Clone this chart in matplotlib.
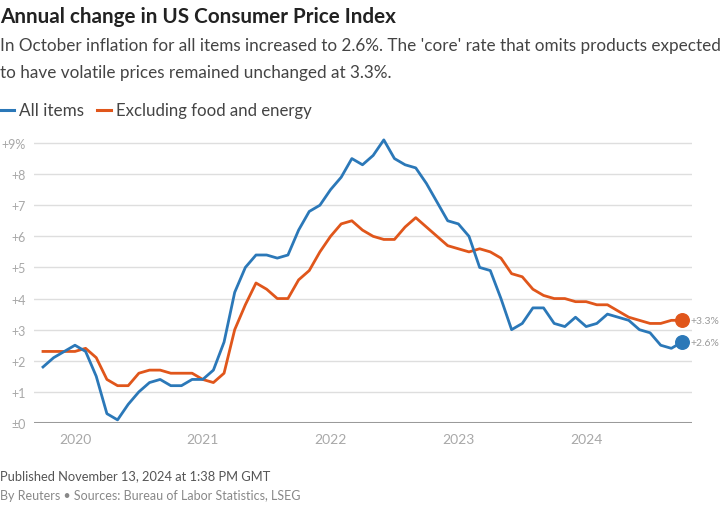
import matplotlib
matplotlib.use("Agg")
import matplotlib.pyplot as plt
import numpy as np

plt.rcParams['font.family'] = ['Lato', 'DejaVu Sans']

# monthly data, Oct 2019 .. Oct 2024
start_year = 2019
start_month = 10
all_items = [1.8, 2.1, 2.3,
             2.5, 2.3, 1.5, 0.3, 0.1, 0.6, 1.0, 1.3, 1.4, 1.2, 1.2, 1.4,
             1.4, 1.7, 2.6, 4.2, 5.0, 5.4, 5.4, 5.3, 5.4, 6.2, 6.8, 7.0,
             7.5, 7.9, 8.5, 8.3, 8.6, 9.1, 8.5, 8.3, 8.2, 7.7, 7.1, 6.5,
             6.4, 6.0, 5.0, 4.9, 4.0, 3.0, 3.2, 3.7, 3.7, 3.2, 3.1, 3.4,
             3.1, 3.2, 3.5, 3.4, 3.3, 3.0, 2.9, 2.5, 2.4, 2.6]
core = [2.3, 2.3, 2.3,
        2.3, 2.4, 2.1, 1.4, 1.2, 1.2, 1.6, 1.7, 1.7, 1.6, 1.6, 1.6,
        1.4, 1.3, 1.6, 3.0, 3.8, 4.5, 4.3, 4.0, 4.0, 4.6, 4.9, 5.5,
        6.0, 6.4, 6.5, 6.2, 6.0, 5.9, 5.9, 6.3, 6.6, 6.3, 6.0, 5.7,
        5.6, 5.5, 5.6, 5.5, 5.3, 4.8, 4.7, 4.3, 4.1, 4.0, 4.0, 3.9,
        3.9, 3.8, 3.8, 3.6, 3.4, 3.3, 3.2, 3.2, 3.3, 3.3]
year_labels = ["2020", "2021", "2022", "2023", "2024"]
y_ticks = [0, 1, 2, 3, 4, 5, 6, 7, 8, 9]
y_labels = ["\u00b10", "+1", "+2", "+3", "+4", "+5", "+6", "+7", "+8", "+9%"]

blue = "#2b78b8"
orange = "#e0561b"
grid_c = "#dedede"
tick_c = "#a8a8a8"

W, H = 720, 506
fig = plt.figure(figsize=(W / 100, H / 100), dpi=100)

# axes placed in pixel coords: x 34..692, y(0)=424, y(9)=144
px_per_unit = (424 - 144) / 9
ytop = 9.25
ax_top = 424 - ytop * px_per_unit
ax = fig.add_axes([34 / W, (H - 424) / H, (692 - 34) / W, (424 - ax_top) / H])

x = np.arange(len(all_items))
px_per_month = (682 - 43) / (len(all_items) - 1)
ax.set_xlim(-(43 - 34) / px_per_month, len(all_items) - 1 + (692 - 682) / px_per_month)
ax.set_ylim(0, ytop)

for s in ax.spines.values():
    s.set_visible(False)

for t in y_ticks[1:]:
    ax.axhline(t, color=grid_c, lw=1.0, zorder=1)
ax.axhline(0, color="#9a9a9a", lw=2.2, zorder=1)

ax.plot(x, core, color=orange, lw=2.0, solid_joinstyle='round', zorder=3, clip_on=False)
ax.plot(x, all_items, color=blue, lw=2.0, solid_joinstyle='round', zorder=4, clip_on=False)
ax.scatter([x[-1]], [core[-1]], s=95, color=orange, zorder=5, clip_on=False)
ax.scatter([x[-1]], [all_items[-1]], s=95, color=blue, zorder=5, clip_on=False)
ax.annotate(f"+{core[-1]:.1f}%", (x[-1], core[-1]), xytext=(6, 0), textcoords='offset points',
            va='center', ha='left', fontsize=7.5, color="#9a9a9a", annotation_clip=False)
ax.annotate(f"+{all_items[-1]:.1f}%", (x[-1], all_items[-1]), xytext=(6, 0), textcoords='offset points',
            va='center', ha='left', fontsize=7.5, color="#9a9a9a", annotation_clip=False)

# January of each labelled year
jan_pos = [(int(y) - start_year) * 12 + (1 - start_month) for y in year_labels]
ax.set_xticks(jan_pos)
ax.set_xticklabels(year_labels)
ax.set_yticks(y_ticks)
ax.set_yticklabels(y_labels)
ax.tick_params(axis='both', length=0, colors=tick_c)
ax.tick_params(axis='y', pad=6, labelsize=9)
ax.tick_params(axis='x', pad=7, labelsize=10)
ax.grid(False)

# header
fig.text(0, 1 - 17 / H, "Annual change in US Consumer Price Index", fontsize=14.9,
         fontweight='bold', color="#222222", va='center', ha='left')
fig.text(0, 1 - 46 / H, "In October inflation for all items increased to 2.6%. The 'core' rate that omits products expected",
         fontsize=12.3, color="#444444", va='center', ha='left')
fig.text(0, 1 - 73 / H, "to have volatile prices remained unchanged at 3.3%.",
         fontsize=12.3, color="#444444", va='center', ha='left')

# legend
ly = 1 - 111 / H
fig.add_artist(plt.Line2D([0, 14 / W], [ly, ly], color=blue, lw=2.2))
fig.text(19 / W, ly, "All items", fontsize=12.3, color="#444444", va='center', ha='left')
fig.add_artist(plt.Line2D([97 / W, 111 / W], [ly, ly], color=orange, lw=2.2))
fig.text(116 / W, ly, "Excluding food and energy", fontsize=12.1, color="#444444", va='center', ha='left')

# footer
fig.text(0, 1 - 476 / H, "Published November 13, 2024 at 1:38 PM GMT", fontsize=9.3,
         color="#555555", va='center', ha='left')
fig.text(0, 1 - 496 / H, "By Reuters \u2022 Sources: Bureau of Labor Statistics, LSEG", fontsize=9.0,
         color="#888888", va='center', ha='left')

fig.savefig("out.png", dpi=100)
